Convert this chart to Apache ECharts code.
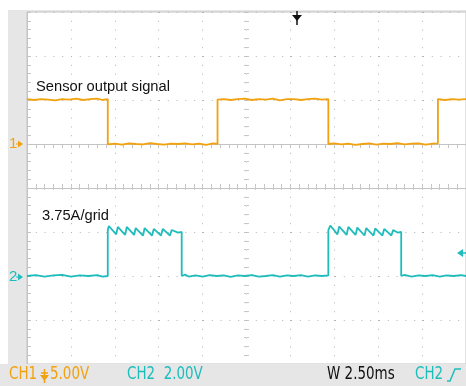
<!DOCTYPE html>
<html>
<head>
<meta charset="utf-8">
<script src="https://cdn.jsdelivr.net/npm/echarts@6/dist/echarts.min.js"></script>
<style>
html,body{margin:0;padding:0;background:#fff;}
#c{width:466px;height:386px;}
</style>
</head>
<body>
<div id="c"></div>
<script>
// Time axis: 10 divisions x 2.50 ms
const timeMin = 0, timeMax = 25, timeStep = 2.5;
// Division axis: 8 vertical divisions
const divMin = -4, divMax = 4;

// CH1: 5.00 V/div, ground marker at +1 div
const ch1Time = [0,0.4,0.8,1.2,1.6,2.0,2.4,2.8,3.2,3.6,4.0,4.3,4.6,
  4.6,5.0,5.4,5.8,6.2,6.6,7.0,7.4,7.8,8.2,8.6,9.0,9.4,9.8,10.2,10.6,10.85,
  10.85,11.2,11.6,12.0,12.4,12.8,13.2,13.6,14.0,14.4,14.8,15.2,15.6,16.0,16.4,16.8,17.16,
  17.16,17.5,17.9,18.3,18.7,19.1,19.5,19.9,20.3,20.7,21.1,21.5,21.9,22.3,22.7,23.1,23.4,
  23.4,23.8,24.2,24.6,25.0];
const ch1Volt = [5.1,5.0,5.1,5.05,4.95,5.1,5.05,5.15,5.0,5.1,5.15,5.0,5.1,
  -0.05,0.05,-0.08,0.08,0.0,-0.05,0.1,0.0,-0.08,0.05,0.0,0.08,-0.05,0.05,-0.1,0.08,0.0,
  5.05,5.1,5.0,5.1,5.15,5.0,5.1,5.05,5.15,4.95,5.1,5.1,5.0,5.1,5.15,5.05,5.1,
  0.0,0.08,-0.05,0.05,-0.1,0.0,0.08,-0.08,0.05,0.0,0.1,-0.05,0.05,0.08,-0.08,0.05,0.08,
  5.1,5.0,5.1,5.05,5.1];

// CH2: current, 3.75 A/div, ground marker at -2 div
const ch2Time = [0,0.5,1.0,1.5,2.0,2.5,3.0,3.5,4.0,4.3,4.6,
  4.6,4.66,5.08,5.17,5.59,5.68,6.10,6.19,6.61,6.70,7.12,7.22,7.63,7.73,8.14,8.24,8.6,8.81,
  8.81,9.0,9.2,9.6,10.0,10.4,10.8,11.2,11.6,12.0,12.4,12.8,13.2,13.6,14.0,14.4,14.8,15.2,15.6,16.0,16.4,16.8,17.16,
  17.16,17.27,17.68,17.78,18.2,18.3,18.71,18.81,19.22,19.32,19.73,19.83,20.24,20.34,20.75,20.85,21.1,21.31,
  21.31,21.5,21.9,22.3,22.7,23.1,23.5,23.9,24.3,24.7,25.0];
const ch2Amp = [0.0,0.08,-0.05,0.05,0.1,-0.05,0.05,0.0,0.08,-0.05,0.0,
  3.9,4.26,3.55,4.18,3.5,4.18,3.5,4.09,3.45,4.09,3.45,4.01,3.45,4.01,3.45,3.92,3.7,3.75,
  0.0,0.12,-0.05,0.05,-0.05,0.08,0.0,0.05,-0.08,0.05,0.0,0.08,-0.05,0.0,0.08,-0.05,0.05,0.0,0.08,-0.05,0.05,0.0,0.05,
  3.9,4.3,3.55,4.22,3.5,4.18,3.5,4.13,3.45,4.09,3.45,4.05,3.45,4.01,3.45,3.92,3.7,3.75,
  0.0,0.1,-0.05,0.05,0.0,0.08,-0.05,0.05,0.0,0.08,0.0];

const ch1Min = -25, ch1Max = 15;      // V
const ch2Min = -7.5, ch2Max = 22.5;   // A

const orange = '#f2a10f';
const teal = '#1fbcbc';
const gridCol = '#b4b4b4';
const tickCol = '#c8c8c8';
const borderCol = '#c4c4c4';

const chart = echarts.init(document.getElementById('c'), null, {renderer:'canvas'});

function zip(a,b){return a.map((t,i)=>[t,b[i]]);}

const hiddenX = {type:'value', min:timeMin, max:timeMax, interval:timeStep, axisLabel:{show:false}, splitLine:{show:false}};
const dotted = {color:gridCol, width:1, type:[1,7.8]};
const statFont = '17px "DejaVu Sans Condensed", "Liberation Sans Narrow", sans-serif';
const labFont = '14.7px "Liberation Sans", Arial, sans-serif';

function stat(x, txt, col){
  return {type:'text', z:21, x:x, y:366, scaleX:0.88, style:{text:txt, font:statFont, fill:col, verticalAlign:'top'}};
}

const option = {
  animation:false,
  grid:{left:27, top:12, width:440, height:352, show:true, backgroundColor:'#fff', borderColor:borderCol, borderWidth:1},
  xAxis:[
    {type:'value', min:timeMin, max:timeMax, interval:timeStep, position:'bottom',
     axisLine:{show:true, lineStyle:{color:borderCol}}, axisLabel:{show:false},
     axisTick:{show:true, inside:true, length:4, lineStyle:{color:borderCol}},
     minorTick:{show:true, splitNumber:5, length:4, lineStyle:{color:borderCol}},
     splitLine:{show:true, lineStyle:dotted}},
    Object.assign({}, hiddenX, {position:'top',
     axisLine:{show:true, lineStyle:{color:borderCol}},
     axisTick:{show:true, inside:true, length:4, lineStyle:{color:borderCol}},
     minorTick:{show:true, splitNumber:5, length:4, lineStyle:{color:borderCol}}}),
    Object.assign({}, hiddenX, {position:'bottom', offset:-176,
     axisLine:{show:false},
     axisTick:{show:true, inside:true, length:2, lineStyle:{color:tickCol}},
     minorTick:{show:true, splitNumber:5, length:2, lineStyle:{color:tickCol}}}),
    Object.assign({}, hiddenX, {position:'top', offset:-176,
     axisLine:{show:false},
     axisTick:{show:true, inside:true, length:2, lineStyle:{color:tickCol}},
     minorTick:{show:true, splitNumber:5, length:2, lineStyle:{color:tickCol}}})
  ],
  yAxis:[
    {type:'value', min:divMin, max:divMax, interval:1, position:'left',
     axisLine:{show:true, lineStyle:{color:borderCol}}, axisLabel:{show:false},
     axisTick:{show:true, inside:true, length:4, lineStyle:{color:borderCol}},
     minorTick:{show:true, splitNumber:5, length:4, lineStyle:{color:borderCol}},
     splitLine:{show:true, lineStyle:dotted}},
    {type:'value', min:ch1Min, max:ch1Max, show:false, splitLine:{show:false}},
    {type:'value', min:ch2Min, max:ch2Max, show:false, splitLine:{show:false}},
    {type:'value', min:divMin, max:divMax, interval:1, position:'left', offset:-220,
     axisLine:{show:false}, axisLabel:{show:false}, splitLine:{show:false},
     axisTick:{show:true, inside:true, length:2, lineStyle:{color:tickCol}},
     minorTick:{show:true, splitNumber:5, length:2, lineStyle:{color:tickCol}}},
    {type:'value', min:divMin, max:divMax, interval:1, position:'right', offset:-220,
     axisLine:{show:false}, axisLabel:{show:false}, splitLine:{show:false},
     axisTick:{show:true, inside:true, length:2, lineStyle:{color:tickCol}},
     minorTick:{show:true, splitNumber:5, length:2, lineStyle:{color:tickCol}}}
  ],
  series:[
    {type:'line', name:'CH1', xAxisIndex:0, yAxisIndex:1, data:zip(ch1Time,ch1Volt),
     showSymbol:false, symbol:'none', lineStyle:{color:orange, width:1.8}, z:5},
    {type:'line', name:'CH2', xAxisIndex:0, yAxisIndex:2, data:zip(ch2Time,ch2Amp),
     showSymbol:false, symbol:'none', lineStyle:{color:teal, width:1.8}, z:5}
  ],
  graphic:[
    {type:'rect', z:-10, shape:{x:8,y:10,width:458,height:376}, style:{fill:'#e6e6e6'}},
    {type:'rect', z:20, shape:{x:0,y:364,width:466,height:22}, style:{fill:'#e6e6e6'}},
    {type:'text', z:20, left:36, top:79, style:{text:'Sensor output signal', font:labFont, fill:'#111'}},
    {type:'text', z:20, left:42, top:208, style:{text:'3.75A/grid', font:labFont, fill:'#111'}},
    // channel ground markers
    {type:'text', z:20, left:9, top:136, style:{text:'1', font:'15px "Liberation Sans", Arial, sans-serif', fill:orange}},
    {type:'polygon', z:20, shape:{points:[[18,140.5],[23,144],[18,147.5]]}, style:{fill:orange}},
    {type:'line', z:20, shape:{x1:16,y1:144,x2:22,y2:144}, style:{stroke:orange, lineWidth:1}},
    {type:'text', z:20, left:9, top:269, style:{text:'2', font:'15px "Liberation Sans", Arial, sans-serif', fill:teal}},
    {type:'polygon', z:20, shape:{points:[[18,273.5],[23,277],[18,280.5]]}, style:{fill:teal}},
    {type:'line', z:20, shape:{x1:16,y1:277,x2:22,y2:277}, style:{stroke:teal, lineWidth:1}},
    // trigger position marker (top)
    {type:'polygon', z:20, shape:{points:[[292,15],[302,15],[297,21]]}, style:{fill:'#111'}},
    {type:'line', z:20, shape:{x1:297,y1:11,x2:297,y2:25}, style:{stroke:'#111', lineWidth:1.5}},
    // trigger level marker (right)
    {type:'polygon', z:20, shape:{points:[[457,253],[463,249],[463,257]]}, style:{fill:teal}},
    {type:'line', z:20, shape:{x1:460,y1:253,x2:466,y2:253}, style:{stroke:teal, lineWidth:1.5}},
    // status bar
    stat(9, 'CH1', orange),
    {type:'polygon', z:21, shape:{points:[[40,375],[49,375],[44.5,381]]}, style:{fill:orange}},
    {type:'line', z:21, shape:{x1:44.5,y1:369,x2:44.5,y2:383}, style:{stroke:orange, lineWidth:1.5}},
    {type:'line', z:21, shape:{x1:41,y1:373,x2:48,y2:373}, style:{stroke:orange, lineWidth:1.5}},
    stat(50, '5.00V', orange),
    stat(127, 'CH2  2.00V', teal),
    stat(327, 'W 2.50ms', '#111'),
    stat(415, 'CH2', teal),
    {type:'polyline', z:21, shape:{points:[[447,381],[450,381],[455,369],[461,369]]}, style:{stroke:teal, lineWidth:1.5, fill:null}}
  ]
};
chart.setOption(option);
</script>
</body>
</html>
